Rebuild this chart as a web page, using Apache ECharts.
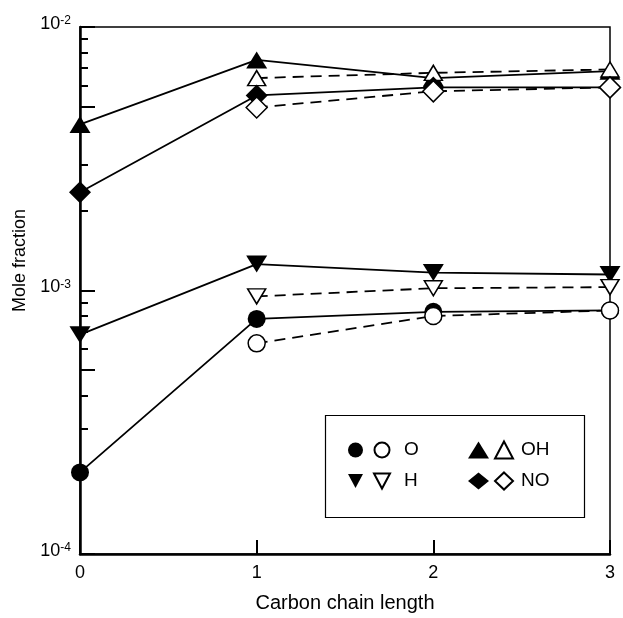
<!DOCTYPE html>
<html>
<head>
<meta charset="utf-8">
<script src="https://cdn.jsdelivr.net/npm/echarts@6/dist/echarts.min.js"></script>
<style>
  html, body { margin: 0; padding: 0; background: #fff; }
  #chart { width: 623px; height: 618px; }
</style>
</head>
<body>
<div id="chart"></div>
<script>
// carbon chain length on x, mole fraction on y (log)
const chainLength = [0, 1, 2, 3]
// filled symbols = solid lines, open symbols = dashed lines
const oFilled = [2.04e-4, 7.8e-4, 8.3e-4, 8.4e-4]
const oOpen = [null, 6.3e-4, 8.0e-4, 8.4e-4]
const hFilled = [6.8e-4, 1.26e-3, 1.17e-3, 1.15e-3]
const hOpen = [null, 9.5e-4, 1.02e-3, 1.03e-3]
const ohFilled = [4.27e-3, 7.5e-3, 6.4e-3, 6.8e-3]
const ohOpen = [null, 6.4e-3, 6.7e-3, 6.9e-3]
const noFilled = [2.36e-3, 5.5e-3, 5.9e-3, 5.9e-3]
const noOpen = [null, 4.95e-3, 5.7e-3, 5.9e-3]

const majorTicks = [1e-4, 5e-4, 1e-3, 5e-3, 1e-2]
const minorTicks = [2e-4, 3e-4, 4e-4, 6e-4, 7e-4, 8e-4, 9e-4,
  2e-3, 3e-3, 4e-3, 6e-3, 7e-3, 8e-3, 9e-3]
const decadeLabels = [1e-4, 1e-3, 1e-2]

const downTri = 'path://M0,0L16,0L8,15Z'

const pairs = (vals) => chainLength
  .map((x, i) => [x, vals[i]])
  .filter(p => p[1] != null)

const filled = (name, vals, symbol, size) => ({
  name: name,
  type: 'line',
  data: pairs(vals),
  symbol: symbol,
  symbolSize: size,
  showAllSymbol: true,
  itemStyle: { color: '#000' },
  lineStyle: { color: '#000', width: 1.8 },
  emphasis: { disabled: true }
})
const open = (name, vals, symbol, size) => ({
  name: name,
  type: 'line',
  data: pairs(vals),
  symbol: symbol,
  symbolSize: size,
  showAllSymbol: true,
  itemStyle: { color: '#fff', borderColor: '#000', borderWidth: 1.5 },
  lineStyle: { color: '#000', width: 1.8, type: [11, 7] },
  emphasis: { disabled: true }
})

const chart = echarts.init(document.getElementById('chart'))

const legendBase = {
  orient: 'vertical',
  top: 434.5,
  padding: 0,
  itemGap: 0,
  selectedMode: false,
  textStyle: { fontSize: 19, color: '#000', lineHeight: 31 }
}

const option = {
  animation: false,
  textStyle: { fontFamily: 'Liberation Sans, Arial, sans-serif' },
  grid: {
    left: 80, right: 13, top: 27, bottom: 61,
    show: true, borderColor: '#000', borderWidth: 1.5
  },
  xAxis: {
    type: 'value',
    min: 0, max: 3, interval: 1,
    name: 'Carbon chain length',
    nameLocation: 'middle',
    nameGap: 39,
    nameTextStyle: { fontSize: 20, color: '#000' },
    axisLine: { lineStyle: { color: '#000', width: 2.5 } },
    axisTick: { inside: true, length: 14, lineStyle: { color: '#000', width: 2 } },
    axisLabel: { fontSize: 18, color: '#000', margin: 10 },
    splitLine: { show: false }
  },
  yAxis: [
    {
      type: 'log',
      logBase: 10,
      min: 1e-4, max: 1e-2,
      position: 'left',
      name: 'Mole fraction',
      nameLocation: 'middle',
      nameGap: 51,
      nameTextStyle: { fontSize: 18, color: '#000', padding: [0, 0, 0, 60] },
      axisLine: { lineStyle: { color: '#000', width: 2.5 } },
      axisTick: { inside: true, length: 15, customValues: majorTicks, lineStyle: { color: '#000', width: 2 } },
      axisLabel: {
        customValues: decadeLabels,
        margin: 9,
        padding: [0, 0, 6, 0],
        formatter: (v) => '{b|10}{s|' + Math.round(Math.log10(v)) + '}',
        rich: {
          b: { fontSize: 18, color: '#000', lineHeight: 18, verticalAlign: 'bottom' },
          s: { fontSize: 12, color: '#000', lineHeight: 12, verticalAlign: 'top', padding: [0, 0, 12, 0] }
        }
      },
      splitLine: { show: false }
    },
    {
      type: 'log',
      logBase: 10,
      min: 1e-4, max: 1e-2,
      position: 'left',
      axisLine: { show: false },
      axisTick: { inside: true, length: 8, customValues: minorTicks, lineStyle: { color: '#000', width: 2 } },
      axisLabel: { show: false },
      splitLine: { show: false }
    }
  ],
  legend: [
    Object.assign({}, legendBase, {
      left: 348, itemWidth: 15, itemHeight: 15,
      data: [{ name: 'O', icon: 'circle' }, { name: 'H', icon: downTri }],
      formatter: () => ' '
    }),
    Object.assign({}, legendBase, {
      left: 373, itemWidth: 16, itemHeight: 15,
      data: [{ name: 'O open', icon: 'circle' }, { name: 'H open', icon: downTri }],
      formatter: (n) => n.split(' ')[0],
      textStyle: Object.assign({}, legendBase.textStyle, { padding: [0, 0, 0, 9] })
    }),
    Object.assign({}, legendBase, {
      left: 468, itemWidth: 21, itemHeight: 17,
      data: [{ name: 'OH', icon: 'triangle' }, { name: 'NO', icon: 'diamond' }],
      formatter: () => ' '
    }),
    Object.assign({}, legendBase, {
      left: 494, itemWidth: 18, itemHeight: 17,
      data: [{ name: 'OH open', icon: 'triangle' }, { name: 'NO open', icon: 'diamond' }],
      formatter: (n) => n.split(' ')[0],
      textStyle: Object.assign({}, legendBase.textStyle, { padding: [0, 0, 0, 3] })
    })
  ],
  graphic: [
    {
      type: 'rect',
      left: 323, top: 413,
      shape: { width: 259, height: 102 },
      style: { fill: 'none', stroke: '#000', lineWidth: 1.2 },
      z: 100
    }
  ],
  series: [
    filled('O', oFilled, 'circle', 18),
    open('O open', oOpen, 'circle', 17),
    filled('H', hFilled, downTri, [21, 17]),
    open('H open', hOpen, downTri, [18, 15]),
    filled('OH', ohFilled, 'triangle', [21, 17]),
    open('OH open', ohOpen, 'triangle', [18, 15]),
    filled('NO', noFilled, 'diamond', [22, 22]),
    open('NO open', noOpen, 'diamond', [21, 21])
  ]
}

chart.setOption(option)
</script>
</body>
</html>
